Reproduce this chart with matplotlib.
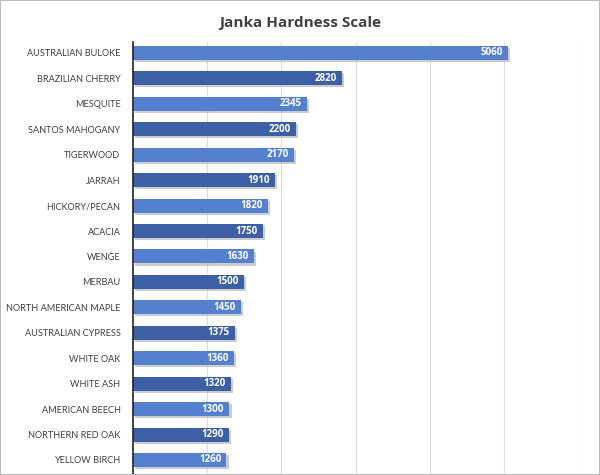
import matplotlib.pyplot as plt
import matplotlib.patheffects as pe
from matplotlib.patches import Rectangle

# Janka hardness values (lbf), top to bottom
species = ["AUSTRALIAN BULOKE", "BRAZILIAN CHERRY", "MESQUITE", "SANTOS MAHOGANY",
           "TIGERWOOD", "JARRAH", "HICKORY/PECAN", "ACACIA", "WENGE", "MERBAU",
           "NORTH AMERICAN MAPLE", "AUSTRALIAN CYPRESS", "WHITE OAK", "WHITE ASH",
           "AMERICAN BEECH", "NORTHERN RED OAK", "YELLOW BIRCH"]
hardness = [5060, 2820, 2345, 2200, 2170, 1910, 1820, 1750, 1630, 1500,
            1450, 1375, 1360, 1320, 1300, 1290, 1260]

light = "#5580cf"
dark = "#3d5fa5"

fig = plt.figure(figsize=(6, 4.75), dpi=100)
ax = fig.add_axes([133 / 600, 0, 445 / 600, 433 / 475])

n = len(species)
ypos = list(range(n - 1, -1, -1))
colors = [light if i % 2 == 0 else dark for i in range(n)]

bars = ax.barh(ypos, hardness, height=0.55, color=colors, zorder=3)
for b in bars:
    b.set_path_effects([pe.SimplePatchShadow(offset=(1.5, -1.5), shadow_rgbFace="#aaaaaa", alpha=0.6),
                        pe.Normal()])

for y, v in zip(ypos, hardness):
    ax.text(v - 70, y, str(v), ha="right", va="center", color="white",
            fontsize=7, fontweight="bold", family="Open Sans", zorder=4)

ax.set_yticks(ypos)
ax.set_yticklabels(species, fontsize=6.6, color="#404040", family="Lato")
ax.tick_params(axis="y", length=0, pad=9)
ax.set_xticks([1000, 2000, 3000, 4000, 5000, 6000])
ax.tick_params(axis="x", length=0, labelbottom=False)
ax.set_xlim(0, 6000)
ax.set_ylim(-0.59, 16.43)
ax.grid(axis="x", color="#dddddd", linewidth=0.8, zorder=0)
for s in ["top", "right", "bottom"]:
    ax.spines[s].set_visible(False)
ax.spines["left"].set_color("#222222")
ax.spines["left"].set_linewidth(1.2)
ax.spines["left"].set_zorder(5)

fig.text(0.5, 1 - 23 / 475, "Janka Hardness Scale", ha="center", va="center",
         fontsize=11, fontweight="bold", color="#404040", family="Open Sans")

fig.patches.append(Rectangle((0, 0), 1, 1, transform=fig.transFigure, fill=False,
                             edgecolor="#bbbbbb", linewidth=1.5))

fig.savefig("out.png", dpi=100)
